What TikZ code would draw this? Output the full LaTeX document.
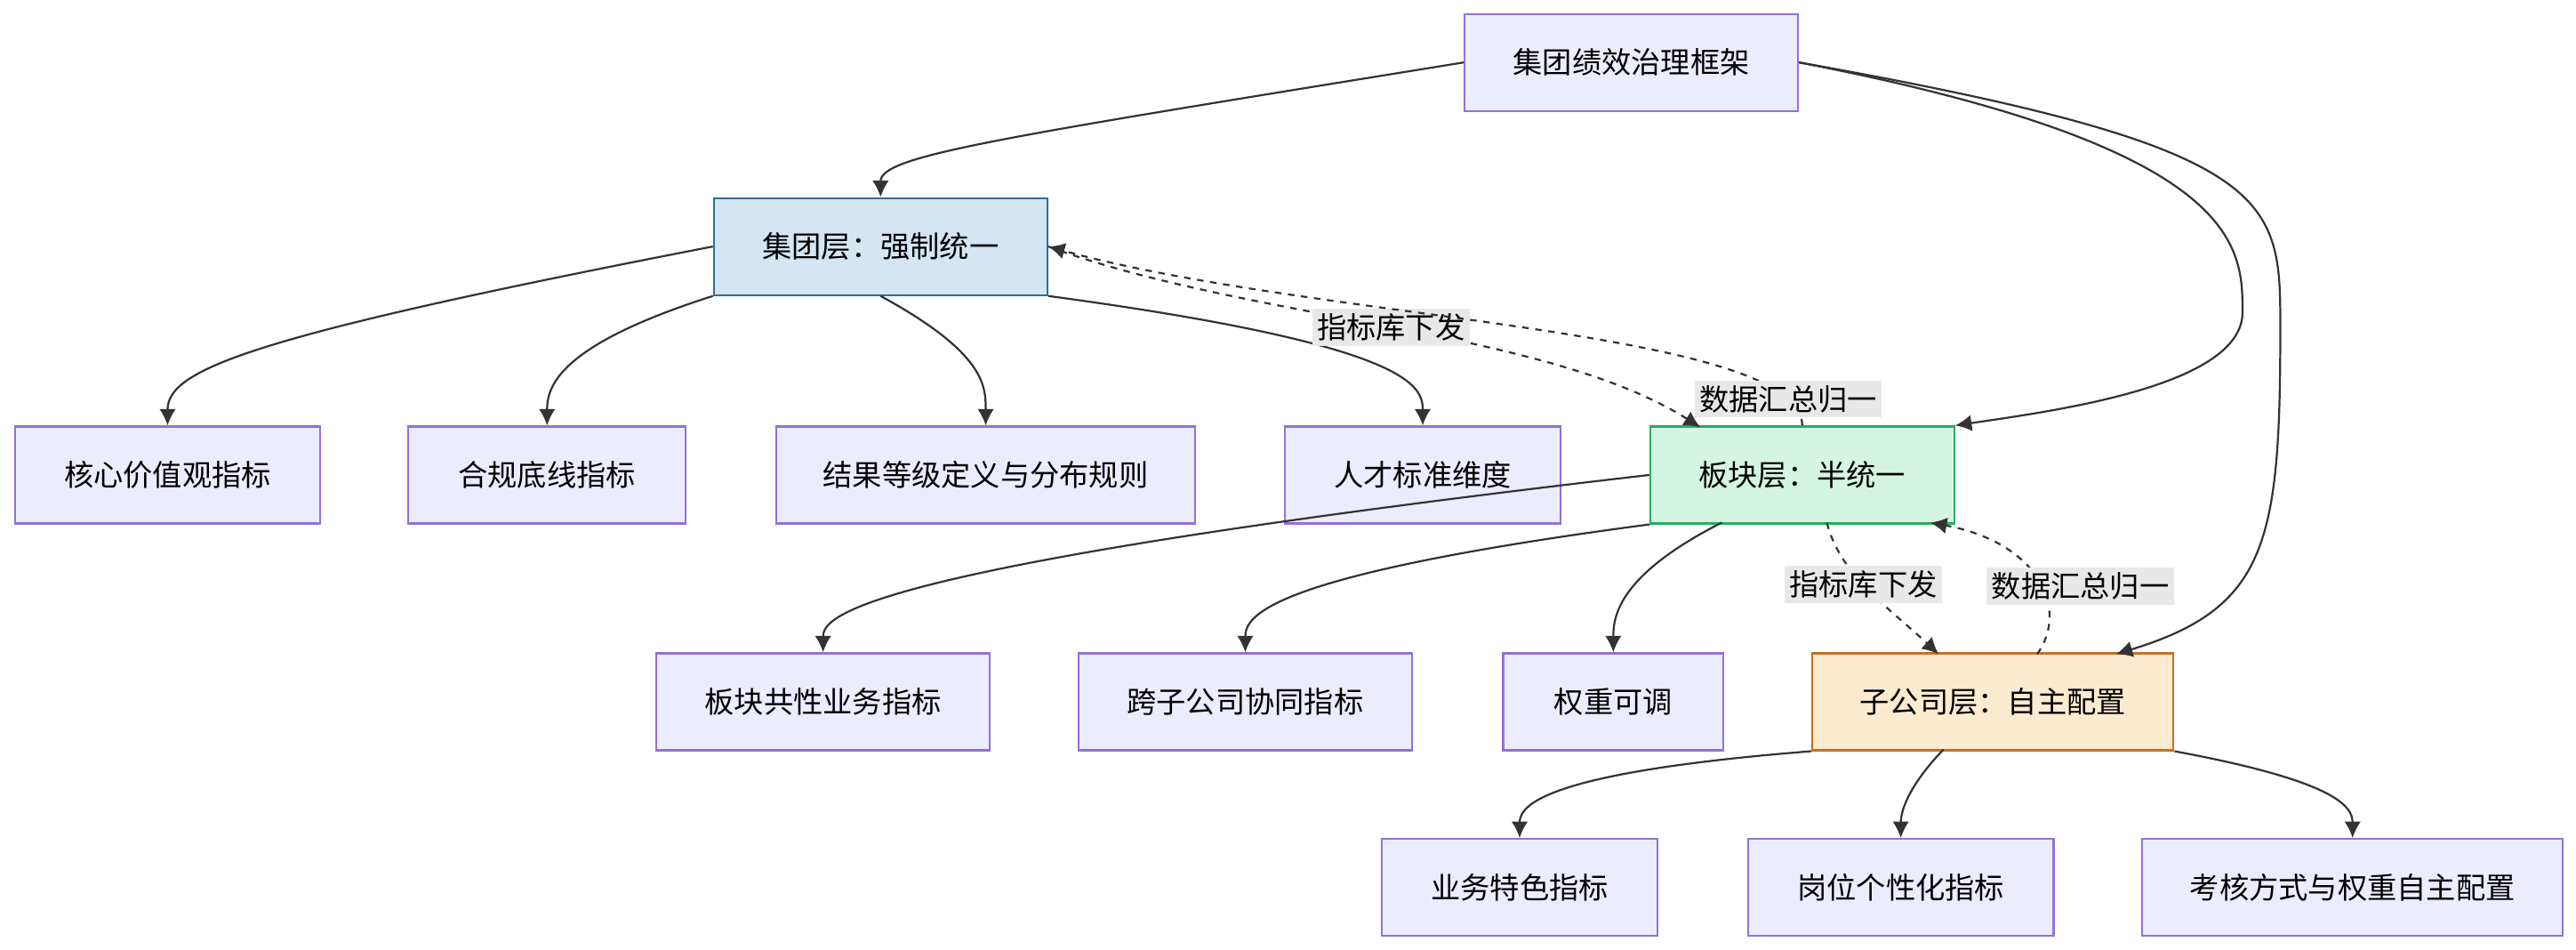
\documentclass[tikz,border=0pt]{standalone}
\usepackage{fontspec}
\newfontfamily\cjk{Noto Sans CJK SC}
\usetikzlibrary{arrows.meta}
\definecolor{boxfill}{HTML}{ECECFF}
\definecolor{boxline}{HTML}{9370DB}
\definecolor{grpfill}{HTML}{D4E6F1}
\definecolor{grpline}{HTML}{2E6E9E}
\definecolor{segfill}{HTML}{D5F5E3}
\definecolor{segline}{HTML}{27AE60}
\definecolor{subfill}{HTML}{FDEBD0}
\definecolor{subline}{HTML}{CA6F1E}
\definecolor{edgecol}{HTML}{333333}
\tikzset{every path/.style={line width=0.6pt}}
\begin{document}
\begin{tikzpicture}[x=0.5pt,y=-0.5pt,
    font=\cjk\fontsize{9}{11}\selectfont,
    box/.style={draw=boxline,fill=boxfill,minimum height=29.5pt,inner sep=0pt},
    link/.style={draw=edgecol,-{Latex[length=5pt,width=5pt]}},
    dlink/.style={link,dash pattern=on 2pt off 2pt},
    lab/.style={fill=gray!18,inner sep=1.5pt}]
  \useasboundingbox (0,0) rectangle (1568,578);
  \node[box,minimum width=101.5pt] (top) at (993,38) {集团绩效治理框架};
  \node[box,minimum width=101.5pt,fill=grpfill,draw=grpline] (G) at (536,150) {集团层：强制统一};
  \node[box,minimum width=93pt]  (core)   at (102,289) {核心价值观指标};
  \node[box,minimum width=84.5pt] (comp)  at (333,289) {合规底线指标};
  \node[box,minimum width=127.5pt] (res)  at (600,289) {结果等级定义与分布规则};
  \node[box,minimum width=84pt]  (tal)    at (866,289) {人才标准维度};
  \node[box,minimum width=92.5pt,fill=segfill,draw=segline] (B) at (1097,289) {板块层：半统一};
  \node[box,minimum width=101.5pt] (bk)   at (501,427) {板块共性业务指标};
  \node[box,minimum width=101.5pt] (cross) at (758,427) {跨子公司协同指标};
  \node[box,minimum width=67pt]  (wt)     at (982,427) {权重可调};
  \node[box,minimum width=110pt,fill=subfill,draw=subline] (S) at (1213,427) {子公司层：自主配置};
  \node[box,minimum width=84pt]  (biz)    at (925,540) {业务特色指标};
  \node[box,minimum width=93pt]  (post)   at (1157,540) {岗位个性化指标};
  \node[box,minimum width=128pt] (ass)    at (1432,540) {考核方式与权重自主配置};
  % framework
  \draw[link] (top.west) .. controls (600,85) and (536,95) .. (G.north);
  \draw[link] (top.east) .. controls (1365,90) and (1365,150) .. (1365,190) .. controls (1365,235) and (1250,250) .. (B.north east);
  \draw[link] (top.east) .. controls (1388,90) and (1388,120) .. (1388,200) .. controls (1388,330) and (1380,370) .. (1288,398);
  % group level
  \draw[link] (G.west) .. controls (150,205) and (102,225) .. (core.north);
  \draw[link] (G.south west) .. controls (340,210) and (333,235) .. (comp.north);
  \draw[link] (G.south) .. controls (600,215) and (600,235) .. (res.north);
  \draw[link] (G.south east) .. controls (860,210) and (866,235) .. (tal.north);
  % down and up
  \draw[dlink] (G.east) .. controls (760,195) and (940,200) .. (1035,260) node[lab,pos=0.5] {指标库下发};
  \draw[dlink] (B.north) .. controls (1097,200) and (800,195) .. (G.east) node[lab,pos=0.1] {数据汇总归一};
  % segment level
  \draw[link] (B.west) .. controls (520,345) and (501,375) .. (bk.north);
  \draw[link] (B.south west) .. controls (770,350) and (758,375) .. (cross.north);
  \draw[link] (1048,318) .. controls (985,350) and (982,375) .. (wt.north);
  \draw[dlink] (1112,318) .. controls (1120,350) and (1150,370) .. (1180,398) node[lab,pos=0.45] {指标库下发};
  \draw[dlink] (1240,398) .. controls (1260,370) and (1240,330) .. (1175,318) node[lab,pos=0.45,xshift=12pt] {数据汇总归一};
  % subsidiary level
  \draw[link] (S.south west) .. controls (940,470) and (925,490) .. (biz.north);
  \draw[link] (1183,456) .. controls (1160,480) and (1157,495) .. (post.north);
  \draw[link] (S.south east) .. controls (1420,475) and (1432,490) .. (ass.north);
\end{tikzpicture}
\end{document}
